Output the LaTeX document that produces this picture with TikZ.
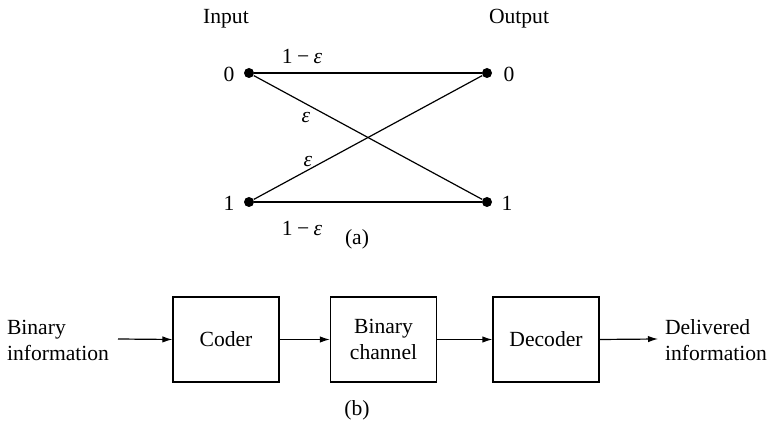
\documentclass[tikz,border=0pt]{standalone}
\usepackage{fontspec}
\setmainfont{Liberation Serif}
\usetikzlibrary{arrows.meta}
\newcommand{\eps}{\textit{ε}}
\newcommand{\ome}{1\hspace{2.2pt}−\hspace{2.2pt}\eps}
\begin{document}
\begin{tikzpicture}[x=0.5pt,y=-0.5pt,
  every node/.style={font=\fontsize{10.8}{13}\selectfont},
  line/.style={line width=0.6pt},
  dot/.style={circle,fill=black,inner sep=0pt,minimum size=5pt},
  blk/.style={draw,line width=0.6pt,minimum width=53pt,minimum height=42.5pt,inner sep=0pt,align=center},
  lbl/.style={align=left,inner sep=0pt},
  arr/.style={line width=0.6pt,-{Latex[length=5pt,width=3.2pt]}}]
\useasboundingbox (0,0) rectangle (767,422);
% (a)
\node at (226,19) {Input};
\node at (519,19) {Output};
\node[dot] (i0) at (249,73) {};
\node[dot] (i1) at (249,202) {};
\node[dot] (o0) at (487,73) {};
\node[dot] (o1) at (487,202) {};
\node (li0) at (229,74) {0};
\node (li1) at (229,203) {1};
\node (lo0) at (509,74) {0};
\node (lo1) at (507,203) {1};
\draw[line] (i0) -- (o0);
\draw[line] (i1) -- (o1);
\draw[line] (i0) -- (o1);
\draw[line] (i1) -- (o0);
\node at (302,56) {\ome};
\node at (302,228) {\ome};
\node at (306,118) {\eps};
\node at (308,162) {\eps};
\node at (357,239) {(a)};
% (b)
\node[lbl] (bin) at (58,340) {Binary\\information};
\node[blk] (cod) at (226,339.5) {Coder};
\node[blk] (ch) at (383.5,339.5) {Binary\\channel};
\node[blk] (dec) at (546,339.5) {Decoder};
\node[lbl] (del) at (716,340) {Delivered\\information};
\coordinate (a0) at (118,339);
\coordinate (a1) at (658,339);
\draw[arr] (a0) -- (cod.west);
\draw[arr] (cod.east) -- (ch.west);
\draw[arr] (ch.east) -- (dec.west);
\draw[arr] (dec.east) -- (a1);
\node at (357,410) {(b)};
\end{tikzpicture}
\end{document}
